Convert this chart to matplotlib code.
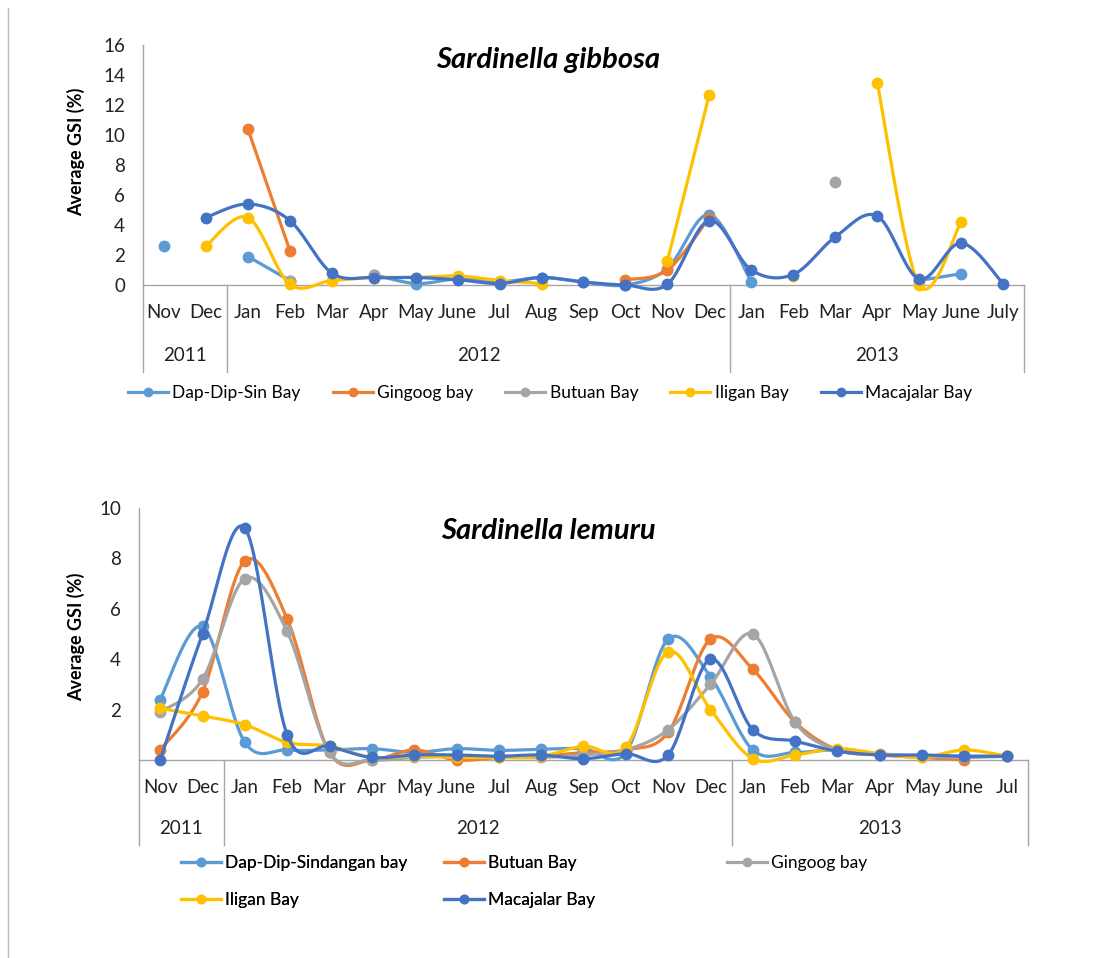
import numpy as np
import matplotlib
matplotlib.use("Agg")
import matplotlib.pyplot as plt
from matplotlib.lines import Line2D

nan = np.nan

months = ["Nov", "Dec", "Jan", "Feb", "Mar", "Apr", "May", "June", "Jul", "Aug", "Sep",
          "Oct", "Nov", "Dec", "Jan", "Feb", "Mar", "Apr", "May", "June", "July"]
months_b = months[:-1] + ["Jul"]
years = ["2011", "2012", "2013"]
year_span = [(0, 1), (2, 13), (14, 20)]

# Sardinella gibbosa
g_names = ["Dap-Dip-Sin Bay", "Gingoog bay", "Butuan Bay", "Iligan Bay", "Macajalar Bay"]
g_dap = [2.6, nan, 1.9, 0.3, nan, 0.7, 0.1, 0.4, 0.2, 0.5, 0.2, 0.0, 1.1, 4.7, 0.2, nan, nan, nan, 0.3, 0.75, nan]
g_gin = [nan, nan, 10.4, 2.3, nan, nan, nan, nan, nan, nan, nan, 0.35, 1.0, 4.5, nan, nan, nan, nan, nan, nan, nan]
g_but = [nan, nan, nan, 0.3, nan, 0.7, nan, nan, nan, nan, nan, nan, nan, nan, nan, nan, 6.9, nan, nan, nan, nan]
g_ili = [nan, 2.6, 4.5, 0.05, 0.3, 0.5, 0.5, 0.6, 0.3, 0.1, nan, nan, 1.6, 12.7, nan, 0.6, nan, 13.5, 0.0, 4.2, nan]
g_mac = [nan, 4.5, 5.4, 4.3, 0.8, 0.5, 0.5, 0.35, 0.1, 0.5, 0.2, 0.0, 0.05, 4.3, 1.0, 0.7, 3.2, 4.6, 0.4, 2.8, 0.1]

# Sardinella lemuru
l_names = ["Dap-Dip-Sindangan bay", "Butuan Bay", "Gingoog bay", "Iligan Bay", "Macajalar Bay"]
l_dap = [2.4, 5.3, 0.7, 0.4, 0.4, 0.45, 0.3, 0.45, 0.38, 0.43, 0.45, 0.3, 4.8, 3.3, 0.4, 0.3, 0.4, 0.2, 0.15, 0.15, 0.15]
l_but = [0.4, 2.7, 7.9, 5.6, 0.3, 0.0, 0.4, 0.0, 0.1, 0.15, 0.3, 0.4, 1.1, 4.8, 3.6, 1.5, 0.4, 0.2, 0.1, 0.0, nan]
l_gin = [1.9, 3.2, 7.2, 5.1, 0.3, 0.0, 0.1, 0.15, 0.1, 0.1, 0.2, 0.4, 1.2, 3.0, 5.0, 1.5, 0.4, 0.25, 0.15, 0.1, 0.15]
l_ili = [2.05, 1.75, 1.4, 0.7, 0.55, 0.1, 0.15, 0.1, 0.1, 0.15, 0.55, 0.5, 4.3, 2.0, 0.05, 0.2, 0.45, 0.25, 0.1, 0.4, 0.15]
l_mac = [0.0, 5.0, 9.2, 1.0, 0.55, 0.1, 0.2, 0.2, 0.15, 0.2, 0.05, 0.25, 0.2, 4.0, 1.2, 0.75, 0.35, 0.2, 0.2, 0.15, 0.15]

c_lb, c_or, c_gr, c_yl, c_db = "#5B9BD5", "#ED7D31", "#A5A5A5", "#FFC000", "#4472C4"
g_colors = [c_lb, c_or, c_gr, c_yl, c_db]
l_colors = [c_lb, c_or, c_gr, c_yl, c_db]

plt.rcParams["font.family"] = ["Lato", "DejaVu Sans"]
FS = 13.5
LFS = 12.5


def smooth(xs, ys, n=24):
    # Excel style smoothed line: cubic bezier with catmull-rom controls
    xs = np.asarray(xs, float)
    ys = np.asarray(ys, float)
    if len(xs) < 2:
        return xs, ys
    px, py = [xs[0]], [ys[0]]
    t = np.linspace(0, 1, n)[1:]
    for i in range(len(xs) - 1):
        p1 = np.array([xs[i], ys[i]])
        p2 = np.array([xs[i + 1], ys[i + 1]])
        p0 = np.array([xs[i - 1], ys[i - 1]]) if i > 0 else p1
        p3 = np.array([xs[i + 2], ys[i + 2]]) if i + 2 < len(xs) else p2
        c1 = p1 + (p2 - p0) / 6
        c2 = p2 - (p3 - p1) / 6
        b = ((1 - t) ** 3)[:, None] * p1 + (3 * (1 - t) ** 2 * t)[:, None] * c1 \
            + (3 * (1 - t) * t ** 2)[:, None] * c2 + (t ** 3)[:, None] * p2
        px.extend(b[:, 0])
        py.extend(b[:, 1])
    return np.array(px), np.array(py)


def draw_series(ax, vals, color):
    vals = np.asarray(vals, float)
    x = np.arange(len(vals))
    ok = ~np.isnan(vals)
    # split into runs of consecutive values
    runs, cur = [], []
    for i in range(len(vals)):
        if ok[i]:
            cur.append(i)
        elif cur:
            runs.append(cur)
            cur = []
    if cur:
        runs.append(cur)
    for r in runs:
        sx, sy = smooth(x[r], vals[r])
        ax.plot(sx, sy, color=color, lw=2.3, solid_capstyle="round", clip_on=False, zorder=3)
        ax.plot(x[r], vals[r], "o", color=color, ms=7.5, clip_on=False, zorder=3)


def setup_axes(ax, labels, ymax, yticks, sep_depth, year_y):
    ax.set_xlim(-0.5, len(labels) - 0.5)
    ax.set_ylim(0, ymax)
    ax.set_yticks(yticks)
    ax.set_xticks(range(len(labels)))
    ax.set_xticklabels(labels)
    ax.tick_params(axis="both", length=0, labelsize=FS, colors="#222222")
    ax.tick_params(axis="y", pad=13)
    ax.tick_params(axis="x", pad=14)
    for s in ["top", "right"]:
        ax.spines[s].set_visible(False)
    for s in ["left", "bottom"]:
        ax.spines[s].set_color("#A6A6A6")
        ax.spines[s].set_linewidth(1.0)
    tr = ax.get_xaxis_transform()
    for xb in [-0.5, 1.5, 13.5, len(labels) - 0.5]:
        ax.plot([xb, xb], [0, -sep_depth], color="#A6A6A6", lw=1.0, transform=tr, clip_on=False)
    for yr, (a, b) in zip(years, year_span):
        ax.text((a + b) / 2, year_y, yr, transform=tr, ha="center", va="center",
                fontsize=FS, color="#222222")


fig = plt.figure(figsize=(10.94, 9.58), dpi=100)
W, H = 1094, 958

# top chart
ax1 = fig.add_axes([143 / W, 1 - 285 / H, (1024 - 143) / W, (285 - 45) / H])
setup_axes(ax1, months, 16, range(0, 17, 2), 87 / 240, -70 / 240)
for vals, col in zip([g_dap, g_gin, g_but, g_ili, g_mac], g_colors):
    draw_series(ax1, vals, col)
ax1.set_ylabel("Average GSI (%)", fontsize=13, fontweight="bold")
ax1.yaxis.set_label_coords((85 - 143) / 881, (285 - 152) / 240)
ax1.text((548 - 143) / 881, (285 - 60) / 240, "Sardinella gibbosa", transform=ax1.transAxes,
         ha="center", va="center", fontsize=21, fontweight="bold", style="italic")

h1 = [Line2D([], [], color=c, lw=2.3, marker="o", ms=6) for c in g_colors]
fig.legend(h1, g_names, loc="center left", bbox_to_anchor=(128 / W, 1 - 393 / H), ncol=5,
           frameon=False, fontsize=LFS, handlelength=2.3, handletextpad=0.25, columnspacing=1.85,
           borderpad=0, borderaxespad=0)

# bottom chart
ax2 = fig.add_axes([139 / W, 1 - 760 / H, (1028 - 139) / W, (760 - 508) / H])
setup_axes(ax2, months_b, 10, [2, 4, 6, 8, 10], 85 / 252, -69 / 252)
for vals, col in zip([l_dap, l_but, l_gin, l_ili, l_mac], l_colors):
    draw_series(ax2, vals, col)
ax2.set_ylabel("Average GSI (%)", fontsize=13, fontweight="bold")
ax2.yaxis.set_label_coords((85 - 139) / 889, (760 - 637) / 252)
ax2.text((548 - 139) / 889, (760 - 531) / 252, "Sardinella lemuru", transform=ax2.transAxes,
         ha="center", va="center", fontsize=21, fontweight="bold", style="italic")

h2 = [Line2D([], [], color=c, lw=2.3, marker="o", ms=6) for c in l_colors]
order = [0, 3, 1, 4]
leg = fig.legend([h2[i] for i in order], [l_names[i] for i in order], loc="upper left",
                 bbox_to_anchor=(181 / W, 1 - 855 / H), ncol=2, frameon=False, fontsize=LFS,
                 handlelength=2.3, handletextpad=0.25, columnspacing=2.1, labelspacing=1.2,
                 borderpad=0, borderaxespad=0)
fig.add_artist(leg)
fig.legend([h2[2]], [l_names[2]], loc="upper left", bbox_to_anchor=(727 / W, 1 - 855 / H),
           frameon=False, fontsize=LFS, handlelength=2.3, handletextpad=0.25,
           borderpad=0, borderaxespad=0)

# outer frame line on the left
fig.add_artist(Line2D([8 / W, 8 / W], [0, 1 - 8 / H], color="#BBBBBB", lw=1.0))

fig.savefig("out.png", dpi=100)
